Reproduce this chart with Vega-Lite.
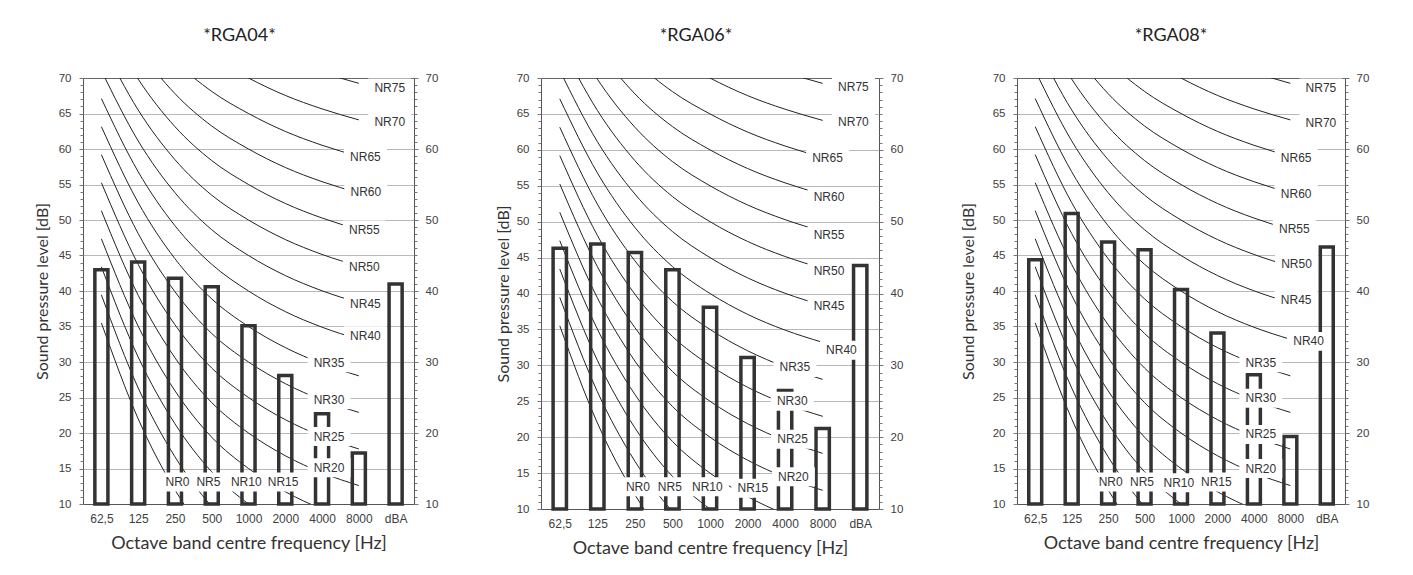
{
"$schema": "https://vega.github.io/schema/vega-lite/v6.json",
"background": "white",
"padding": {"left": 34, "top": 26, "right": 5, "bottom": 5},
"spacing": 57,
"config": {
 "view": {"stroke": null},
 "axis": {"labelFont": "Liberation Sans", "titleFont": "Lato", "titleFontWeight": "normal", "titleFontSize": 16, "titleColor": "#333", "labelColor": "#404040", "domainColor": "#555", "tickColor": "#777"},
 "title": {"font": "Lato", "fontSize": 18, "fontWeight": "normal", "color": "#222", "offset": 27.5}
},
"datasets": {
 "nr": [
  {"nr":"NR0","freq":"62,5","db":35.5},{"nr":"NR0","freq":"125","db":22.0},{"nr":"NR0","freq":"250","db":12.0},{"nr":"NR0","freq":"500","db":4.8},{"nr":"NR0","freq":"1000","db":0},{"nr":"NR0","freq":"2000","db":-3.5},{"nr":"NR0","freq":"4000","db":-6.1},{"nr":"NR0","freq":"8000","db":-8.0},
  {"nr":"NR5","freq":"62,5","db":39.45},{"nr":"NR5","freq":"125","db":26.35},{"nr":"NR5","freq":"250","db":16.65},{"nr":"NR5","freq":"500","db":9.67},{"nr":"NR5","freq":"1000","db":5},{"nr":"NR5","freq":"2000","db":1.58},{"nr":"NR5","freq":"4000","db":-0.98},{"nr":"NR5","freq":"8000","db":-2.85},
  {"nr":"NR10","freq":"62,5","db":43.4},{"nr":"NR10","freq":"125","db":30.7},{"nr":"NR10","freq":"250","db":21.3},{"nr":"NR10","freq":"500","db":14.54},{"nr":"NR10","freq":"1000","db":10},{"nr":"NR10","freq":"2000","db":6.65},{"nr":"NR10","freq":"4000","db":4.15},{"nr":"NR10","freq":"8000","db":2.3},
  {"nr":"NR15","freq":"62,5","db":47.35},{"nr":"NR15","freq":"125","db":35.05},{"nr":"NR15","freq":"250","db":25.95},{"nr":"NR15","freq":"500","db":19.41},{"nr":"NR15","freq":"1000","db":15},{"nr":"NR15","freq":"2000","db":11.73},{"nr":"NR15","freq":"4000","db":9.28},{"nr":"NR15","freq":"8000","db":7.45},
  {"nr":"NR20","freq":"62,5","db":51.3},{"nr":"NR20","freq":"125","db":39.4},{"nr":"NR20","freq":"250","db":30.6},{"nr":"NR20","freq":"500","db":24.28},{"nr":"NR20","freq":"1000","db":20},{"nr":"NR20","freq":"2000","db":16.8},{"nr":"NR20","freq":"4000","db":14.4},{"nr":"NR20","freq":"8000","db":12.6},
  {"nr":"NR25","freq":"62,5","db":55.25},{"nr":"NR25","freq":"125","db":43.75},{"nr":"NR25","freq":"250","db":35.25},{"nr":"NR25","freq":"500","db":29.15},{"nr":"NR25","freq":"1000","db":25},{"nr":"NR25","freq":"2000","db":21.88},{"nr":"NR25","freq":"4000","db":19.53},{"nr":"NR25","freq":"8000","db":17.75},
  {"nr":"NR30","freq":"62,5","db":59.2},{"nr":"NR30","freq":"125","db":48.1},{"nr":"NR30","freq":"250","db":39.9},{"nr":"NR30","freq":"500","db":34.02},{"nr":"NR30","freq":"1000","db":30},{"nr":"NR30","freq":"2000","db":26.95},{"nr":"NR30","freq":"4000","db":24.65},{"nr":"NR30","freq":"8000","db":22.9},
  {"nr":"NR35","freq":"62,5","db":63.15},{"nr":"NR35","freq":"125","db":52.45},{"nr":"NR35","freq":"250","db":44.55},{"nr":"NR35","freq":"500","db":38.89},{"nr":"NR35","freq":"1000","db":35},{"nr":"NR35","freq":"2000","db":32.03},{"nr":"NR35","freq":"4000","db":29.78},{"nr":"NR35","freq":"8000","db":28.05},
  {"nr":"NR40","freq":"62,5","db":67.1},{"nr":"NR40","freq":"125","db":56.8},{"nr":"NR40","freq":"250","db":49.2},{"nr":"NR40","freq":"500","db":43.76},{"nr":"NR40","freq":"1000","db":40},{"nr":"NR40","freq":"2000","db":37.1},{"nr":"NR40","freq":"4000","db":34.9},{"nr":"NR40","freq":"8000","db":33.2},
  {"nr":"NR45","freq":"62,5","db":71.05},{"nr":"NR45","freq":"125","db":61.15},{"nr":"NR45","freq":"250","db":53.85},{"nr":"NR45","freq":"500","db":48.63},{"nr":"NR45","freq":"1000","db":45},{"nr":"NR45","freq":"2000","db":42.18},{"nr":"NR45","freq":"4000","db":40.03},{"nr":"NR45","freq":"8000","db":38.35},
  {"nr":"NR50","freq":"62,5","db":75.0},{"nr":"NR50","freq":"125","db":65.5},{"nr":"NR50","freq":"250","db":58.5},{"nr":"NR50","freq":"500","db":53.5},{"nr":"NR50","freq":"1000","db":50},{"nr":"NR50","freq":"2000","db":47.25},{"nr":"NR50","freq":"4000","db":45.15},{"nr":"NR50","freq":"8000","db":43.5},
  {"nr":"NR55","freq":"62,5","db":78.95},{"nr":"NR55","freq":"125","db":69.85},{"nr":"NR55","freq":"250","db":63.15},{"nr":"NR55","freq":"500","db":58.37},{"nr":"NR55","freq":"1000","db":55},{"nr":"NR55","freq":"2000","db":52.33},{"nr":"NR55","freq":"4000","db":50.28},{"nr":"NR55","freq":"8000","db":48.65},
  {"nr":"NR60","freq":"62,5","db":82.9},{"nr":"NR60","freq":"125","db":74.2},{"nr":"NR60","freq":"250","db":67.8},{"nr":"NR60","freq":"500","db":63.24},{"nr":"NR60","freq":"1000","db":60},{"nr":"NR60","freq":"2000","db":57.4},{"nr":"NR60","freq":"4000","db":55.4},{"nr":"NR60","freq":"8000","db":53.8},
  {"nr":"NR65","freq":"62,5","db":86.85},{"nr":"NR65","freq":"125","db":78.55},{"nr":"NR65","freq":"250","db":72.45},{"nr":"NR65","freq":"500","db":68.11},{"nr":"NR65","freq":"1000","db":65},{"nr":"NR65","freq":"2000","db":62.48},{"nr":"NR65","freq":"4000","db":60.53},{"nr":"NR65","freq":"8000","db":58.95},
  {"nr":"NR70","freq":"62,5","db":90.8},{"nr":"NR70","freq":"125","db":82.9},{"nr":"NR70","freq":"250","db":77.1},{"nr":"NR70","freq":"500","db":72.98},{"nr":"NR70","freq":"1000","db":70},{"nr":"NR70","freq":"2000","db":67.55},{"nr":"NR70","freq":"4000","db":65.65},{"nr":"NR70","freq":"8000","db":64.1},
  {"nr":"NR75","freq":"62,5","db":94.75},{"nr":"NR75","freq":"125","db":87.25},{"nr":"NR75","freq":"250","db":81.75},{"nr":"NR75","freq":"500","db":77.85},{"nr":"NR75","freq":"1000","db":75},{"nr":"NR75","freq":"2000","db":72.63},{"nr":"NR75","freq":"4000","db":70.78},{"nr":"NR75","freq":"8000","db":69.25}
 ],
 "bars": [
  {"panel":"RGA04","freq":"62,5","db":43.0},{"panel":"RGA04","freq":"125","db":44.1},{"panel":"RGA04","freq":"250","db":41.8},{"panel":"RGA04","freq":"500","db":40.6},{"panel":"RGA04","freq":"1000","db":35.1},{"panel":"RGA04","freq":"2000","db":28.1},{"panel":"RGA04","freq":"4000","db":22.7},{"panel":"RGA04","freq":"8000","db":17.2},{"panel":"RGA04","freq":"dBA","db":41.0},
  {"panel":"RGA06","freq":"62,5","db":46.3},{"panel":"RGA06","freq":"125","db":46.9},{"panel":"RGA06","freq":"250","db":45.7},{"panel":"RGA06","freq":"500","db":43.3},{"panel":"RGA06","freq":"1000","db":38.1},{"panel":"RGA06","freq":"2000","db":31.1},{"panel":"RGA06","freq":"4000","db":26.5},{"panel":"RGA06","freq":"8000","db":21.2},{"panel":"RGA06","freq":"dBA","db":43.9},
  {"panel":"RGA08","freq":"62,5","db":44.4},{"panel":"RGA08","freq":"125","db":50.9},{"panel":"RGA08","freq":"250","db":46.9},{"panel":"RGA08","freq":"500","db":45.8},{"panel":"RGA08","freq":"1000","db":40.2},{"panel":"RGA08","freq":"2000","db":34.1},{"panel":"RGA08","freq":"4000","db":28.2},{"panel":"RGA08","freq":"8000","db":19.5},{"panel":"RGA08","freq":"dBA","db":46.2}
 ],
 "labels": [
  {"panel":"RGA04","label":"NR75","lx":8.34,"ly":68.6},{"panel":"RGA04","label":"NR70","lx":8.34,"ly":63.8},{"panel":"RGA04","label":"NR65","lx":7.68,"ly":58.9},{"panel":"RGA04","label":"NR60","lx":7.69,"ly":54.0},{"panel":"RGA04","label":"NR55","lx":7.65,"ly":48.6},{"panel":"RGA04","label":"NR50","lx":7.65,"ly":43.4},{"panel":"RGA04","label":"NR45","lx":7.68,"ly":38.1},{"panel":"RGA04","label":"NR40","lx":7.68,"ly":33.7},{"panel":"RGA04","label":"NR35","lx":6.69,"ly":29.9},{"panel":"RGA04","label":"NR30","lx":6.69,"ly":24.7},{"panel":"RGA04","label":"NR25","lx":6.69,"ly":19.5},{"panel":"RGA04","label":"NR20","lx":6.69,"ly":15.1},{"panel":"RGA04","label":"NR0","lx":2.57,"ly":13.1},{"panel":"RGA04","label":"NR5","lx":3.41,"ly":13.1},{"panel":"RGA04","label":"NR10","lx":4.44,"ly":13.1},{"panel":"RGA04","label":"NR15","lx":5.44,"ly":13.1},
  {"panel":"RGA06","label":"NR75","lx":8.32,"ly":68.7},{"panel":"RGA06","label":"NR70","lx":8.32,"ly":63.9},{"panel":"RGA06","label":"NR65","lx":7.63,"ly":58.9},{"panel":"RGA06","label":"NR60","lx":7.67,"ly":53.5},{"panel":"RGA06","label":"NR55","lx":7.67,"ly":48.2},{"panel":"RGA06","label":"NR50","lx":7.67,"ly":43.2},{"panel":"RGA06","label":"NR45","lx":7.67,"ly":38.2},{"panel":"RGA06","label":"NR40","lx":8.0,"ly":32.1},{"panel":"RGA06","label":"NR35","lx":6.76,"ly":29.7},{"panel":"RGA06","label":"NR30","lx":6.69,"ly":25.0},{"panel":"RGA06","label":"NR25","lx":6.70,"ly":19.7},{"panel":"RGA06","label":"NR20","lx":6.72,"ly":14.5},{"panel":"RGA06","label":"NR0","lx":2.58,"ly":13.1},{"panel":"RGA06","label":"NR5","lx":3.43,"ly":13.1},{"panel":"RGA06","label":"NR10","lx":4.43,"ly":13.1},{"panel":"RGA06","label":"NR15","lx":5.64,"ly":12.9},
  {"panel":"RGA08","label":"NR75","lx":8.34,"ly":68.6},{"panel":"RGA08","label":"NR70","lx":8.34,"ly":63.7},{"panel":"RGA08","label":"NR65","lx":7.66,"ly":58.7},{"panel":"RGA08","label":"NR60","lx":7.66,"ly":53.6},{"panel":"RGA08","label":"NR55","lx":7.61,"ly":48.7},{"panel":"RGA08","label":"NR50","lx":7.67,"ly":43.8},{"panel":"RGA08","label":"NR45","lx":7.66,"ly":38.7},{"panel":"RGA08","label":"NR40","lx":8.0,"ly":32.9},{"panel":"RGA08","label":"NR35","lx":6.69,"ly":29.9},{"panel":"RGA08","label":"NR30","lx":6.69,"ly":24.9},{"panel":"RGA08","label":"NR25","lx":6.69,"ly":19.8},{"panel":"RGA08","label":"NR20","lx":6.69,"ly":15.0},{"panel":"RGA08","label":"NR0","lx":2.57,"ly":13.1},{"panel":"RGA08","label":"NR5","lx":3.43,"ly":13.1},{"panel":"RGA08","label":"NR10","lx":4.44,"ly":13.0},{"panel":"RGA08","label":"NR15","lx":5.47,"ly":13.1}
 ]
},
"hconcat": [
 {
  "width": 331, "height": 426,
  "title": {"text": "*RGA04*", "dx": -9},
  "layer": [
   {"data": {"name": "nr"},
    "mark": {"type": "line", "interpolate": "monotone", "clip": true, "color": "#222", "strokeWidth": 1},
    "encoding": {
     "x": {"field": "freq", "type": "nominal", "scale": {"domain": ["62,5","125","250","500","1000","2000","4000","8000","dBA"], "paddingInner": 0, "paddingOuter": 0},
           "axis": {"title": "Octave band centre frequency [Hz]", "labelAngle": 0, "ticks": false, "labelPadding": 9, "labelFontSize": 12, "titlePadding": 10, "titleFontSize": 18, "grid": false}},
     "y": {"field": "db", "type": "quantitative", "scale": {"domain": [10, 70], "nice": false, "zero": false},
           "axis": {"orient": "left", "values": [10,15,20,25,30,35,40,45,50,55,60,65,70], "title": "Sound pressure level [dB]", "grid": true, "gridColor": {"condition": {"test": "datum.value === 70", "value": "#666"}, "value": "#b8b8b8"}, "tickSize": 4, "labelPadding": 8, "labelFontSize": 11.5, "titlePadding": 8}},
     "detail": {"field": "nr"}
    }},
   {"data": {"name": "bars"}, "transform": [{"filter": "datum.panel === 'RGA04'"}],
    "mark": {"type": "bar", "filled": false, "stroke": "#333", "strokeWidth": 3.5, "strokeJoin": "miter", "width": {"band": 0.355}},
    "encoding": {
     "x": {"field": "freq", "type": "nominal", "scale": {"domain": ["62,5","125","250","500","1000","2000","4000","8000","dBA"], "paddingInner": 0, "paddingOuter": 0}, "axis": null},
     "y": {"field": "db", "type": "quantitative", "scale": {"domain": [10, 70], "nice": false, "zero": false},
           "axis": {"orient": "right", "values": [10,20,30,40,50,60,70], "title": null, "grid": false, "tickSize": 4, "labelPadding": 7, "labelFontSize": 11.5}},
     "y2": {"datum": 10}
    }},
   {"data": {"name": "labels"}, "transform": [{"filter": "datum.panel === 'RGA04'"}],
    "mark": {"type": "point", "shape": "M-1,-0.44H1V0.44H-1Z", "size": 1849, "filled": true, "fill": "white", "opacity": 1, "strokeWidth": 0},
    "encoding": {
     "x": {"field": "lx", "type": "quantitative", "scale": {"domain": [0, 9], "nice": false, "zero": false}, "axis": null},
     "y": {"field": "ly", "type": "quantitative", "scale": {"domain": [10, 70], "nice": false, "zero": false},
           "axis": {"orient": "left", "values": [10,11,12,13,14,15,16,17,18,19,20,21,22,23,24,25,26,27,28,29,30,31,32,33,34,35,36,37,38,39,40,41,42,43,44,45,46,47,48,49,50,51,52,53,54,55,56,57,58,59,60,61,62,63,64,65,66,67,68,69,70], "labels": false, "domain": false, "grid": false, "tickSize": 3, "title": null}}
    }},
   {"data": {"name": "labels"}, "transform": [{"filter": "datum.panel === 'RGA04'"}],
    "mark": {"type": "text", "font": "Liberation Sans", "fontSize": 12, "color": "#333", "baseline": "middle", "align": "center"},
    "encoding": {
     "x": {"field": "lx", "type": "quantitative", "scale": {"domain": [0, 9], "nice": false, "zero": false}, "axis": null},
     "y": {"field": "ly", "type": "quantitative", "scale": {"domain": [10, 70], "nice": false, "zero": false},
           "axis": {"orient": "right", "values": [10,11,12,13,14,15,16,17,18,19,20,21,22,23,24,25,26,27,28,29,30,31,32,33,34,35,36,37,38,39,40,41,42,43,44,45,46,47,48,49,50,51,52,53,54,55,56,57,58,59,60,61,62,63,64,65,66,67,68,69,70], "labels": false, "domain": false, "grid": false, "tickSize": 3, "title": null}},
     "text": {"field": "label"}
    }}
  ],
  "resolve": {"scale": {"x": "independent"}, "axis": {"x": "independent", "y": "independent"}}
 },
 {
  "width": 338, "height": 431,
  "title": {"text": "*RGA06*", "dx": -14},
  "layer": [
   {"data": {"name": "nr"},
    "mark": {"type": "line", "interpolate": "monotone", "clip": true, "color": "#222", "strokeWidth": 1},
    "encoding": {
     "x": {"field": "freq", "type": "nominal", "scale": {"domain": ["62,5","125","250","500","1000","2000","4000","8000","dBA"], "paddingInner": 0, "paddingOuter": 0},
           "axis": {"title": "Octave band centre frequency [Hz]", "labelAngle": 0, "ticks": false, "labelPadding": 9, "labelFontSize": 12, "titlePadding": 10, "titleFontSize": 18, "grid": false}},
     "y": {"field": "db", "type": "quantitative", "scale": {"domain": [10, 70], "nice": false, "zero": false},
           "axis": {"orient": "left", "values": [10,15,20,25,30,35,40,45,50,55,60,65,70], "title": "Sound pressure level [dB]", "grid": true, "gridColor": {"condition": {"test": "datum.value === 70", "value": "#666"}, "value": "#b8b8b8"}, "tickSize": 4, "labelPadding": 8, "labelFontSize": 11.5, "titlePadding": 5}},
     "detail": {"field": "nr"}
    }},
   {"data": {"name": "bars"}, "transform": [{"filter": "datum.panel === 'RGA06'"}],
    "mark": {"type": "bar", "filled": false, "stroke": "#333", "strokeWidth": 3.5, "strokeJoin": "miter", "width": {"band": 0.355}},
    "encoding": {
     "x": {"field": "freq", "type": "nominal", "scale": {"domain": ["62,5","125","250","500","1000","2000","4000","8000","dBA"], "paddingInner": 0, "paddingOuter": 0}, "axis": null},
     "y": {"field": "db", "type": "quantitative", "scale": {"domain": [10, 70], "nice": false, "zero": false},
           "axis": {"orient": "right", "values": [10,20,30,40,50,60,70], "title": null, "grid": false, "tickSize": 4, "labelPadding": 7, "labelFontSize": 11.5}},
     "y2": {"datum": 10}
    }},
   {"data": {"name": "labels"}, "transform": [{"filter": "datum.panel === 'RGA06'"}],
    "mark": {"type": "point", "shape": "M-1,-0.44H1V0.44H-1Z", "size": 1849, "filled": true, "fill": "white", "opacity": 1, "strokeWidth": 0},
    "encoding": {
     "x": {"field": "lx", "type": "quantitative", "scale": {"domain": [0, 9], "nice": false, "zero": false}, "axis": null},
     "y": {"field": "ly", "type": "quantitative", "scale": {"domain": [10, 70], "nice": false, "zero": false},
           "axis": {"orient": "left", "values": [10,11,12,13,14,15,16,17,18,19,20,21,22,23,24,25,26,27,28,29,30,31,32,33,34,35,36,37,38,39,40,41,42,43,44,45,46,47,48,49,50,51,52,53,54,55,56,57,58,59,60,61,62,63,64,65,66,67,68,69,70], "labels": false, "domain": false, "grid": false, "tickSize": 3, "title": null}}
    }},
   {"data": {"name": "labels"}, "transform": [{"filter": "datum.panel === 'RGA06'"}],
    "mark": {"type": "text", "font": "Liberation Sans", "fontSize": 12, "color": "#333", "baseline": "middle", "align": "center"},
    "encoding": {
     "x": {"field": "lx", "type": "quantitative", "scale": {"domain": [0, 9], "nice": false, "zero": false}, "axis": null},
     "y": {"field": "ly", "type": "quantitative", "scale": {"domain": [10, 70], "nice": false, "zero": false},
           "axis": {"orient": "right", "values": [10,11,12,13,14,15,16,17,18,19,20,21,22,23,24,25,26,27,28,29,30,31,32,33,34,35,36,37,38,39,40,41,42,43,44,45,46,47,48,49,50,51,52,53,54,55,56,57,58,59,60,61,62,63,64,65,66,67,68,69,70], "labels": false, "domain": false, "grid": false, "tickSize": 3, "title": null}},
     "text": {"field": "label"}
    }}
  ],
  "resolve": {"scale": {"x": "independent"}, "axis": {"x": "independent", "y": "independent"}}
 },
 {
  "width": 328, "height": 426,
  "title": {"text": "*RGA08*", "dx": -10},
  "layer": [
   {"data": {"name": "nr"},
    "mark": {"type": "line", "interpolate": "monotone", "clip": true, "color": "#222", "strokeWidth": 1},
    "encoding": {
     "x": {"field": "freq", "type": "nominal", "scale": {"domain": ["62,5","125","250","500","1000","2000","4000","8000","dBA"], "paddingInner": 0, "paddingOuter": 0},
           "axis": {"title": "Octave band centre frequency [Hz]", "labelAngle": 0, "ticks": false, "labelPadding": 9, "labelFontSize": 12, "titlePadding": 10, "titleFontSize": 18, "grid": false}},
     "y": {"field": "db", "type": "quantitative", "scale": {"domain": [10, 70], "nice": false, "zero": false},
           "axis": {"orient": "left", "values": [10,15,20,25,30,35,40,45,50,55,60,65,70], "title": "Sound pressure level [dB]", "grid": true, "gridColor": {"condition": {"test": "datum.value === 70", "value": "#666"}, "value": "#b8b8b8"}, "tickSize": 4, "labelPadding": 8, "labelFontSize": 11.5, "titlePadding": 16}},
     "detail": {"field": "nr"}
    }},
   {"data": {"name": "bars"}, "transform": [{"filter": "datum.panel === 'RGA08'"}],
    "mark": {"type": "bar", "filled": false, "stroke": "#333", "strokeWidth": 3.5, "strokeJoin": "miter", "width": {"band": 0.355}},
    "encoding": {
     "x": {"field": "freq", "type": "nominal", "scale": {"domain": ["62,5","125","250","500","1000","2000","4000","8000","dBA"], "paddingInner": 0, "paddingOuter": 0}, "axis": null},
     "y": {"field": "db", "type": "quantitative", "scale": {"domain": [10, 70], "nice": false, "zero": false},
           "axis": {"orient": "right", "values": [10,20,30,40,50,60,70], "title": null, "grid": false, "tickSize": 4, "labelPadding": 7, "labelFontSize": 11.5}},
     "y2": {"datum": 10}
    }},
   {"data": {"name": "labels"}, "transform": [{"filter": "datum.panel === 'RGA08'"}],
    "mark": {"type": "point", "shape": "M-1,-0.44H1V0.44H-1Z", "size": 1849, "filled": true, "fill": "white", "opacity": 1, "strokeWidth": 0},
    "encoding": {
     "x": {"field": "lx", "type": "quantitative", "scale": {"domain": [0, 9], "nice": false, "zero": false}, "axis": null},
     "y": {"field": "ly", "type": "quantitative", "scale": {"domain": [10, 70], "nice": false, "zero": false},
           "axis": {"orient": "left", "values": [10,11,12,13,14,15,16,17,18,19,20,21,22,23,24,25,26,27,28,29,30,31,32,33,34,35,36,37,38,39,40,41,42,43,44,45,46,47,48,49,50,51,52,53,54,55,56,57,58,59,60,61,62,63,64,65,66,67,68,69,70], "labels": false, "domain": false, "grid": false, "tickSize": 3, "title": null}}
    }},
   {"data": {"name": "labels"}, "transform": [{"filter": "datum.panel === 'RGA08'"}],
    "mark": {"type": "text", "font": "Liberation Sans", "fontSize": 12, "color": "#333", "baseline": "middle", "align": "center"},
    "encoding": {
     "x": {"field": "lx", "type": "quantitative", "scale": {"domain": [0, 9], "nice": false, "zero": false}, "axis": null},
     "y": {"field": "ly", "type": "quantitative", "scale": {"domain": [10, 70], "nice": false, "zero": false},
           "axis": {"orient": "right", "values": [10,11,12,13,14,15,16,17,18,19,20,21,22,23,24,25,26,27,28,29,30,31,32,33,34,35,36,37,38,39,40,41,42,43,44,45,46,47,48,49,50,51,52,53,54,55,56,57,58,59,60,61,62,63,64,65,66,67,68,69,70], "labels": false, "domain": false, "grid": false, "tickSize": 3, "title": null}},
     "text": {"field": "label"}
    }}
  ],
  "resolve": {"scale": {"x": "independent"}, "axis": {"x": "independent", "y": "independent"}}
 }
]
}
